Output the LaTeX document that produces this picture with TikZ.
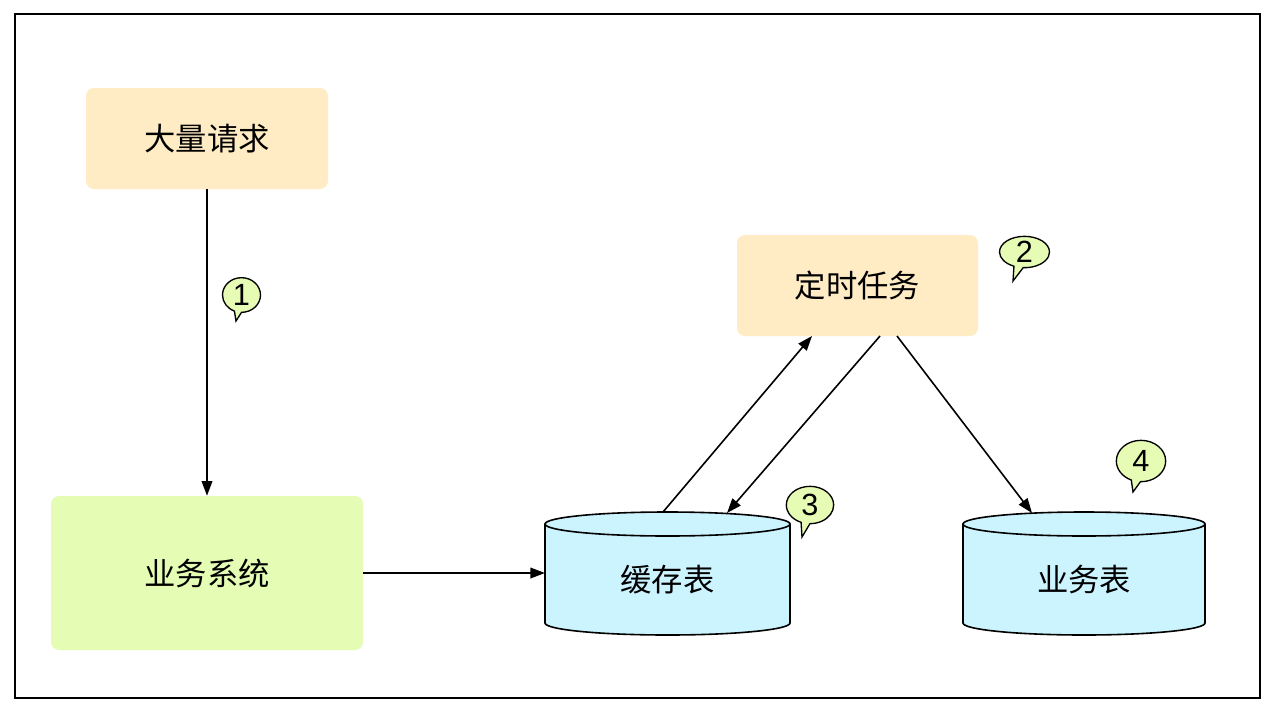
\documentclass[tikz,border=0pt]{standalone}
\usepackage{fontspec}
\setmainfont{Liberation Sans}
\newfontfamily\cjk{Noto Sans CJK SC}
\usetikzlibrary{arrows.meta,shapes.callouts}
\definecolor{orangebox}{HTML}{FFEBC4}
\definecolor{greenbox}{HTML}{E4FCB4}
\definecolor{cyanbox}{HTML}{CCF4FF}
\definecolor{bubble}{HTML}{E6FCB4}
\tikzset{
  boxstyle/.style={rounded corners=6pt, inner sep=0pt, font=\cjk\fontsize{23.5}{27}\selectfont},
  cyltext/.style={inner sep=0pt, font=\cjk\fontsize{23.5}{27}\selectfont},
  conn/.style={line width=1.2pt, -{Triangle[length=11pt,width=8pt]}},
  cylstyle/.style={fill=cyanbox, draw=black, line width=1.2pt},
  bub/.style={ellipse callout, draw=black, fill=bubble, line width=1pt, inner sep=0pt,
     callout pointer arc=22, font=\fontsize{23}{26}\selectfont},
}
\begin{document}
\begin{tikzpicture}[x=0.75pt,y=-0.75pt]
\useasboundingbox (0,0) rectangle (1278,714);
\draw[line width=1.1pt] (15,14) rectangle (1260,698);

% boxes
\node[boxstyle, fill=orangebox, minimum width=181.5pt, minimum height=75.75pt] (req) at (207,138.5) {大量请求};
\node[boxstyle, fill=greenbox, minimum width=234pt, minimum height=115.5pt] (sys) at (207,573) {业务系统};
\node[boxstyle, fill=orangebox, minimum width=180.75pt, minimum height=75.75pt] (timer) at (857.5,285.5) {定时任务};

% cylinders
\draw[cylstyle] (545,524) -- (545,623) arc[start angle=180, end angle=360, x radius=91.875pt, y radius=9pt] -- (790,524)
   arc[start angle=0, end angle=180, x radius=91.875pt, y radius=9pt] -- cycle;
\draw[line width=1.2pt] (545,524) arc[start angle=180, end angle=360, x radius=91.875pt, y radius=9pt];
\node[cyltext] (cache) at (667.5,580) {缓存表};

\draw[cylstyle] (963,524) -- (963,623) arc[start angle=180, end angle=360, x radius=90.75pt, y radius=9pt] -- (1205,524)
   arc[start angle=0, end angle=180, x radius=90.75pt, y radius=9pt] -- cycle;
\draw[line width=1.2pt] (963,524) arc[start angle=180, end angle=360, x radius=90.75pt, y radius=9pt];
\node[cyltext] (biz) at (1084,580) {业务表};

% connector end points
\coordinate (cacheW) at (545,573);
\coordinate (cacheT1) at (663,512);
\coordinate (cacheT2) at (727,513);
\coordinate (bizT) at (1032,513);
\coordinate (timerB1) at (812,336);
\coordinate (timerB2) at (880,336);
\coordinate (timerB3) at (897,336);

% connectors
\draw[conn] (req) -- (sys);
\draw[conn] (sys.east) -- (cacheW);
\draw[conn] (cacheT1) -- (timerB1);
\draw[conn] (timerB2) -- (cacheT2);
\draw[conn] (timerB3) -- (bizT);

% bubbles
\node[bub, minimum width=28.5pt, minimum height=26pt, callout absolute pointer={(236,321)}] (b1) at (241.5,295) {1};
\node[bub, minimum width=37.5pt, minimum height=23.5pt, callout absolute pointer={(1013,281)}] (b2) at (1024.5,252) {2};
\node[bub, minimum width=35.5pt, minimum height=28pt, callout absolute pointer={(802,537)}] (b3) at (810,505) {3};
\node[bub, minimum width=37pt, minimum height=31pt, callout absolute pointer={(1133,492)}] (b4) at (1141,461) {4};
\end{tikzpicture}
\end{document}
